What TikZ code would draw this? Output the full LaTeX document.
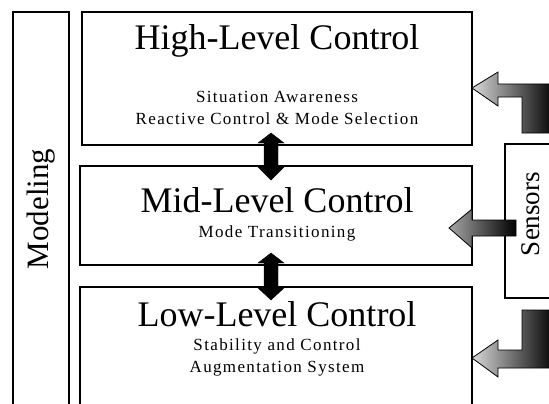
\documentclass[tikz,border=0pt]{standalone}
\usepackage{fontspec}
\setmainfont{Liberation Serif}
\begin{document}
\begin{tikzpicture}[x=1pt,y=-1pt,
  box/.style={draw=black,line width=1.6pt},
  title/.style={font=\fontsize{36}{40}\selectfont,inner sep=0pt},
  sub/.style={font=\fontsize{17}{22}\selectfont\addfontfeature{LetterSpace=8},inner sep=0pt,align=center},
  side/.style={font=\fontsize{31}{34}\selectfont,inner sep=0pt,rotate=90},
  sideS/.style={font=\fontsize{27}{30}\selectfont,inner sep=0pt,rotate=90},
  dblarrow/.style={fill=black,draw=black,line width=0.4pt},
  blockarrow/.style={draw=black,line width=0.8pt}]
\useasboundingbox (0,0) rectangle (549,404);
% Modeling column (open at bottom)
\draw[box] (13,410) -- (13,12) -- (69,12) -- (69,410);
\node[side] (modeling) at (41,209) {Modeling};
% High level
\draw[box] (82,12) rectangle (472,145);
\node[title] (high) at (277,41) {High-Level Control};
\node[sub] (highsub) at (277,108) {Situation Awareness\\Reactive Control \& Mode Selection};
% Mid level
\draw[box] (80,166) rectangle (472,265);
\node[title] (mid) at (277,200) {Mid-Level Control};
\node[sub] (midsub) at (277,233) {Mode Transitioning};
% Low level (open at bottom)
\draw[box] (80,410) -- (80,287) -- (472,287) -- (472,410);
\node[title] (low) at (277,314) {Low-Level Control};
\node[sub] (lowsub) at (277,357) {Stability and Control\\Augmentation System};
% Sensors (open at right)
\draw[box] (560,144) -- (505,144) -- (505,298) -- (560,298);
\node[sideS] (sensors) at (531,214) {Sensors};
% vertical double arrows
\fill[dblarrow] (271,133) -- (284,143) -- (278,143) -- (278,166) -- (285,166) -- (271,180)
  -- (257,166) -- (264,166) -- (264,143) -- (258,143) -- cycle;
\fill[dblarrow] (271,253) -- (284,263) -- (278,263) -- (278,287) -- (285,287) -- (271,300)
  -- (257,287) -- (264,287) -- (264,263) -- (258,263) -- cycle;
% sensor arrows
\shade[blockarrow,left color=black!15,right color=black]
  (472,88) -- (498,72) -- (498,84) -- (555,84) -- (555,133) -- (522,133) -- (522,97)
  -- (498,97) -- (498,106) -- cycle;
\shade[blockarrow,left color=black!35,right color=black]
  (449,228) -- (472,209) -- (472,220) -- (516,220) -- (516,236) -- (472,236) -- (472,248) -- cycle;
\shade[blockarrow,left color=black!15,right color=black]
  (472,358) -- (498,340) -- (498,350) -- (522,350) -- (522,310) -- (555,310) -- (555,368)
  -- (498,368) -- (498,377) -- cycle;
\end{tikzpicture}
\end{document}
